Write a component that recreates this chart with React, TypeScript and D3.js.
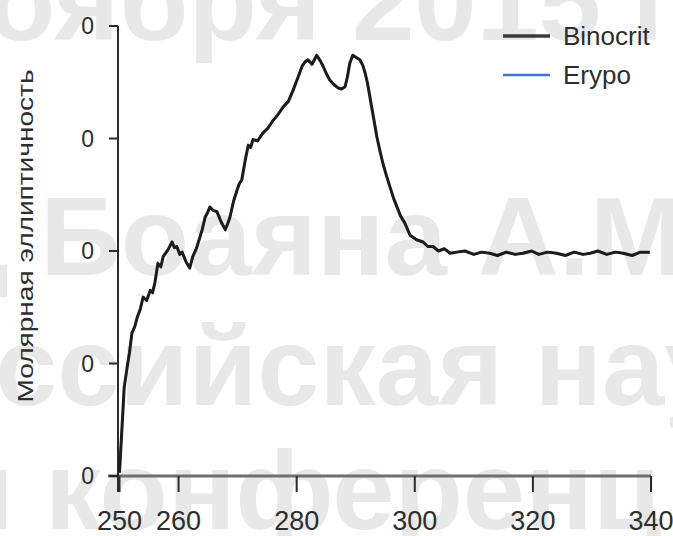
import React from 'react';
import * as d3 from 'd3';

// wavelength, nm
const wavelengths = [
  250.0, 250.4, 250.8, 251.3, 251.7, 252.1, 252.6, 253.0, 253.5, 254.0, 254.6, 255.2, 255.6, 256.0,
  256.5, 257.0, 257.4, 258.2, 258.9, 259.3, 259.7, 260.2, 260.6, 261.3, 261.9, 262.4, 263.0, 263.6,
  264.0, 264.5, 264.9, 265.3, 265.9, 266.5, 267.2, 267.9, 268.3, 268.7, 269.3, 269.9, 270.3, 270.7,
  271.3, 271.8, 272.2, 272.6, 273.4, 274.3, 275.1, 276.0, 276.8, 277.7, 278.6, 279.4, 280.2, 280.9,
  281.4, 281.9, 282.6, 283.4, 284.0, 284.5, 285.0, 285.6, 286.3, 287.0, 287.6, 288.2, 288.6, 289.0,
  289.5, 290.1, 290.7, 291.2, 291.6, 292.0, 292.4, 293.0, 293.6, 294.1, 294.6, 295.2, 295.8, 296.4,
  297.0, 297.6, 298.3, 299.2, 300.3, 301.4, 302.2, 303.1, 304.0, 305.0, 306.0, 307.1, 308.5, 310.0,
  311.3, 312.7, 314.0, 315.5, 317.0, 318.3, 319.8, 321.0, 322.5, 324.0, 325.5, 327.0, 328.5, 329.7,
  331.0, 332.5, 334.0, 335.3, 336.8, 338.2, 339.8,
];

// molar ellipticity (arbitrary units)
const binocritValues = [
  0.3, 4.1, 7.9, 9.7, 11.0, 12.7, 13.3, 14.1, 14.8, 15.9, 15.6, 16.5, 16.3, 17.2,
  18.9, 18.6, 19.5, 20.1, 20.8, 20.3, 20.4, 19.7, 19.9, 19.0, 18.5, 19.5, 20.2, 21.2,
  21.9, 23.0, 23.4, 23.9, 23.6, 23.5, 22.6, 21.9, 22.4, 23.0, 24.4, 25.4, 26.0, 26.3,
  28.1, 29.4, 29.2, 29.9, 29.8, 30.5, 30.9, 31.6, 32.1, 32.8, 33.3, 34.3, 35.4, 36.4,
  36.8, 37.0, 36.6, 37.4, 36.9, 36.4, 35.8, 35.2, 34.8, 34.5, 34.4, 34.6, 35.5, 36.7,
  37.4, 37.2, 37.0, 36.5, 35.8, 34.9, 33.7, 31.9, 30.1, 28.9, 27.8, 26.7, 25.7, 24.7,
  23.9, 23.1, 22.5, 21.4, 21.0, 20.8, 20.4, 20.4, 20.0, 20.2, 19.8, 19.9, 20.0, 19.7,
  19.9, 19.8, 19.6, 19.9, 19.7, 19.8, 20.0, 19.7, 19.9, 19.8, 19.6, 19.9, 19.7, 19.8,
  20.0, 19.7, 19.9, 19.8, 19.6, 19.9, 19.9,
];

// Erypo lies under Binocrit everywhere in the picture
const erypoValues = binocritValues;

const xTicks = [250, 260, 280, 300, 320, 340];
const yTicks = [0, 10, 20, 30, 40];
const yTickLabels = ['0', '0', '0', '0', '0'];

const seriesNames = ['Binocrit', 'Erypo'];
const seriesColors = ['#1c1c1c', '#3a78c9'];

const yTitle = 'Молярная эллиптичность';

const watermarkLines = ['оября 2015 г', 'д Боаяна А.М', 'ссийская нау', 'и конференц'];

const W = 673;
const H = 536;

export default function App() {
  const x = d3.scaleLinear().domain([250, 340]).range([119.5, 651]);
  const y = d3.scaleLinear().domain([0, 40]).range([476, 26]);

  const line = d3.line<number>()
    .x((_, i) => x(wavelengths[i]))
    .y(d => y(d))
    .curve(d3.curveLinear);

  const font = '"Liberation Sans", Arial, sans-serif';
  const textColor = '#2e2e2e';

  // where the faint background lettering sits
  const wmPos = [
    { x: -13, y: 40 },
    { x: -62, y: 275 },
    { x: -5, y: 405 },
    { x: -55, y: 529 },
  ];

  return (
    <svg
      width={W}
      height={H}
      style={{ position: 'absolute', left: 0, top: 0, background: '#fff' }}
      fontFamily={font}
    >
      <rect width={W} height={H} fill="#fff" />

      {/* background watermark */}
      <g fill="#e8e8e8" fontWeight="bold" fontSize={112}>
        {watermarkLines.map((t, i) => (
          <text key={i} x={wmPos[i].x} y={wmPos[i].y}>{t}</text>
        ))}
      </g>

      {/* x axis */}
      <line x1={108} x2={x(340)} y1={y(0)} y2={y(0)} stroke="#6f6f6f" strokeWidth={3} />
      {xTicks.map(t => (
        <g key={t}>
          <line x1={x(t)} x2={x(t)} y1={y(0)} y2={y(0) + 16} stroke="#2a2a2a" strokeWidth={2} />
          <text x={x(t)} y={530} textAnchor="middle" fontSize={27} fill={textColor}>{t}</text>
        </g>
      ))}

      {/* y axis */}
      <line x1={118} x2={118} y1={y(40)} y2={y(0) + 16} stroke="#2a2a2a" strokeWidth={2} />
      {yTicks.map((t, i) => (
        <g key={t}>
          <line x1={109} x2={118} y1={y(t)} y2={y(t)} stroke="#2a2a2a" strokeWidth={2} />
          <text x={94} y={y(t)} dy="0.36em" textAnchor="end" fontSize={23} fill={textColor}>
            {yTickLabels[i]}
          </text>
        </g>
      ))}

      <text
        transform="translate(33,236) rotate(-90)"
        textAnchor="middle"
        fontSize={22}
        fill={textColor}
        textLength={333}
        lengthAdjust="spacingAndGlyphs"
      >
        {yTitle}
      </text>

      {/* series */}
      <path d={line(erypoValues) || ''} fill="none" stroke={seriesColors[1]} strokeWidth={2} />
      <path
        d={line(binocritValues) || ''}
        fill="none"
        stroke={seriesColors[0]}
        strokeWidth={3}
        strokeLinejoin="round"
      />

      {/* legend */}
      {seriesNames.map((name, i) => (
        <g key={name} transform={`translate(503,${i === 0 ? 36 : 75})`}>
          <line x1={0} x2={47} y1={0} y2={0} stroke={i === 0 ? '#3a3a3a' : seriesColors[1]} strokeWidth={i === 0 ? 3.5 : 2.5} />
          <text x={60} y={0} dy="0.35em" fontSize={26} fill={textColor}>{name}</text>
        </g>
      ))}
    </svg>
  );
}
